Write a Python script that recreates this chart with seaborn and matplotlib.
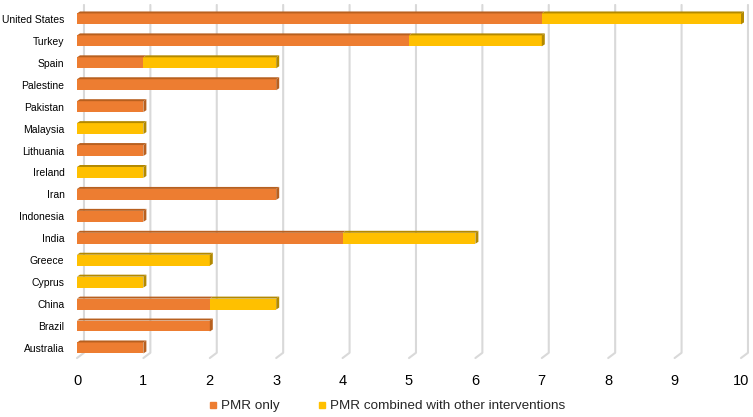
import matplotlib
matplotlib.use("Agg")
import matplotlib.pyplot as plt
from matplotlib.patches import Polygon
from matplotlib.lines import Line2D
import seaborn as sns
import pandas as pd

countries = ["United States", "Turkey", "Spain", "Palestine", "Pakistan", "Malaysia",
             "Lithuania", "Ireland", "Iran", "Indonesia", "India", "Greece", "Cyprus",
             "China", "Brazil", "Australia"]
pmr_only = [7, 5, 1, 3, 1, 0, 1, 0, 3, 1, 4, 0, 0, 2, 2, 1]
pmr_combined = [3, 2, 2, 0, 0, 1, 0, 1, 0, 0, 2, 2, 1, 1, 0, 0]
x_ticks = list(range(0, 11))

ORANGE, ORANGE_DARK = "#ED7D31", "#B8601F"
YELLOW, YELLOW_DARK = "#FFC000", "#B38900"

df = pd.DataFrame({"Country": countries, "PMR only": pmr_only,
                   "PMR combined": pmr_combined})
df["Total"] = df["PMR only"] + df["PMR combined"]

sns.set_theme(style="white")
plt.rcParams["font.family"] = ["Liberation Sans", "DejaVu Sans"]

fig = plt.figure(figsize=(7.53, 4.17), dpi=100)
ax = fig.add_axes([70 / 753, 1 - 360 / 417, 680 / 753, 356 / 417])

# depth offsets of the 3D look, in data units
dx_bar, dy_bar = 0.045, 0.09
dx_grid = 0.105

# gridlines with a slanted floor
for t in x_ticks:
    ax.add_line(Line2D([t + dx_grid, t + dx_grid, t], [-0.64, 15.22, 15.46],
                       color="#D9D9D9", lw=1.5, zorder=0))

bar_h = 0.5
sns.barplot(data=df, x="Total", y="Country", color=YELLOW, width=bar_h,
            saturation=1, orient="h", ax=ax, zorder=2, linewidth=0)
sns.barplot(data=df, x="PMR only", y="Country", color=ORANGE, width=bar_h,
            saturation=1, orient="h", ax=ax, zorder=2, linewidth=0)

for i, (a, b) in enumerate(zip(pmr_only, pmr_combined)):
    top = i - bar_h / 2
    bot = i + bar_h / 2
    segs = []
    if a > 0:
        segs.append((0, a, ORANGE_DARK))
    if b > 0:
        segs.append((a, a + b, YELLOW_DARK))
    for x0, x1, c in segs:
        ax.add_patch(Polygon([(x0, top), (x0 + dx_bar, top - dy_bar),
                              (x1 + dx_bar, top - dy_bar), (x1, top)],
                             closed=True, fc=c, ec="none", zorder=3))
    x0, x1, c = segs[-1]
    ax.add_patch(Polygon([(x1, top), (x1 + dx_bar, top - dy_bar),
                          (x1 + dx_bar, bot - dy_bar), (x1, bot)],
                         closed=True, fc=c, ec="none", zorder=3))

ax.set_xlim(-7 / 66.4, (750 - 77) / 66.4)
ax.set_ylim(15.55, -0.68)
ax.set_xticks(x_ticks)
ax.set_xlabel("")
ax.set_ylabel("")
for s in ax.spines.values():
    s.set_visible(False)
ax.tick_params(axis="both", length=0, colors="#000000")
ax.tick_params(axis="x", pad=10, labelsize=10.5)
ax.tick_params(axis="y", pad=4, labelsize=7.5)

handles = [Line2D([], [], marker="s", ls="none", color=ORANGE, markersize=5),
           Line2D([], [], marker="s", ls="none", color=YELLOW, markersize=5)]
fig.legend(handles, ["PMR only", "PMR combined with other interventions"],
           loc="center", bbox_to_anchor=(387 / 753, 1 - 406 / 417), ncol=2,
           frameon=False, fontsize=9.7, handlelength=0.6, handletextpad=0.3,
           columnspacing=2.8)

fig.savefig("out.png", dpi=100)
